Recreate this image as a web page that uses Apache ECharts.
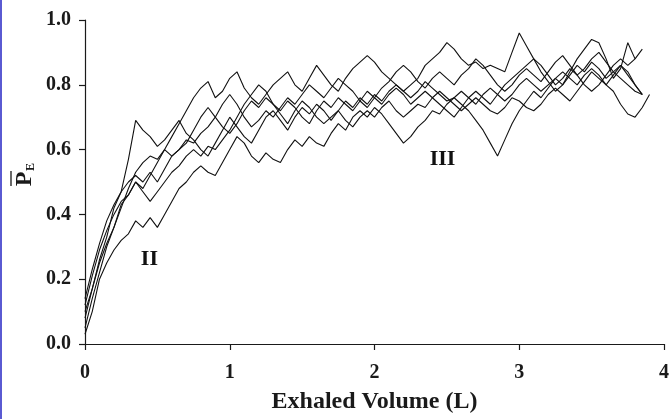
<!DOCTYPE html>
<html>
<head>
<meta charset="utf-8">
<script src="https://cdn.jsdelivr.net/npm/echarts@6/dist/echarts.min.js"></script>
<style>
html,body{margin:0;padding:0;background:#fff;}
#chart{width:672px;height:419px;}
</style>
</head>
<body>
<div id="chart"></div>
<script>
// Exhaled volume (L) sample positions
var volume = [0.00,0.05,0.10,0.15,0.20,0.25,0.30,0.35,0.40,0.45,0.50,0.55,0.60,0.65,0.70,0.75,0.80,0.85,0.90,0.95,
  1.00,1.05,1.10,1.15,1.20,1.25,1.30,1.35,1.40,1.45,1.50,1.55,1.60,1.65,1.70,1.75,1.80,1.85,1.90,1.95,
  2.00,2.05,2.10,2.15,2.20,2.25,2.30,2.35,2.40,2.45,2.50,2.55,2.60,2.65,2.70,2.75,2.80,2.85,2.90,2.95,
  3.00,3.05,3.10,3.15,3.20,3.25,3.30,3.35,3.40,3.45,3.50,3.55,3.60,3.65,3.70,3.75,3.80,3.85,3.90,3.95];

var trace1 = [0.08,0.17,0.26,0.33,0.42,0.47,0.57,0.69,0.66,0.64,0.61,0.63,0.66,0.69,0.65,0.63,0.60,0.58,0.62,0.66,0.70,
  0.67,0.64,0.62,0.66,0.70,0.72,0.69,0.66,0.70,0.73,0.71,0.74,0.72,0.69,0.72,0.75,0.73,0.76,0.74,0.77,
  0.75,0.78,0.80,0.78,0.76,0.78,0.81,0.79,0.77,0.75,0.76,0.74,0.72,0.69,0.66,0.62,0.58,0.63,0.68,0.72,
  0.75,0.78,0.76,0.79,0.82,0.80,0.83,0.86,0.84,0.87,0.85,0.82,0.84,0.86,0.83,0.80,0.77];
var trace2 = [0.05,0.14,0.22,0.30,0.36,0.43,0.46,0.50,0.48,0.52,0.56,0.60,0.64,0.68,0.72,0.76,0.79,0.81,0.76,0.78,0.82,
  0.84,0.79,0.76,0.74,0.77,0.80,0.82,0.84,0.80,0.78,0.82,0.86,0.83,0.80,0.78,0.82,0.85,0.87,0.89,0.87,
  0.84,0.82,0.80,0.78,0.80,0.82,0.86,0.88,0.90,0.93,0.91,0.88,0.86,0.87,0.85,0.86,0.85,0.84,0.90,0.96,
  0.92,0.88,0.84,0.81,0.78,0.80,0.84,0.88,0.91,0.94,0.93,0.88,0.82,0.85,0.93,0.88];
var trace3 = [0.03,0.10,0.20,0.25,0.29,0.32,0.34,0.38,0.36,0.39,0.36,0.40,0.44,0.48,0.50,0.53,0.55,0.53,0.52,0.56,0.60,
  0.64,0.62,0.58,0.56,0.59,0.57,0.56,0.60,0.63,0.61,0.64,0.62,0.61,0.65,0.68,0.66,0.70,0.72,0.70,0.73,
  0.71,0.68,0.65,0.62,0.64,0.67,0.69,0.72,0.71,0.74,0.76,0.78,0.76,0.74,0.77,0.79,0.77,0.75,0.77,0.80,
  0.82,0.80,0.78,0.80,0.82,0.84,0.82,0.80,0.83,0.85,0.83,0.80,0.78,0.74,0.71,0.70,0.73,0.77];
var trace4 = [0.12,0.21,0.29,0.35,0.40,0.44,0.46,0.50,0.47,0.44,0.47,0.50,0.53,0.55,0.58,0.60,0.58,0.61,0.60,0.63,0.66,
  0.70,0.74,0.77,0.80,0.78,0.74,0.72,0.75,0.73,0.70,0.68,0.72,0.75,0.73,0.76,0.74,0.72,0.75,0.78,0.76,
  0.74,0.77,0.79,0.77,0.74,0.76,0.78,0.76,0.74,0.72,0.70,0.73,0.76,0.78,0.76,0.74,0.77,0.80,0.82,0.84,
  0.86,0.88,0.86,0.83,0.80,0.82,0.85,0.83,0.80,0.78,0.80,0.83,0.86,0.88,0.86,0.88,0.91];
var trace5 = [0.14,0.23,0.31,0.38,0.43,0.47,0.50,0.52,0.50,0.53,0.50,0.54,0.58,0.60,0.62,0.66,0.70,0.73,0.70,0.67,0.65,
  0.68,0.72,0.75,0.73,0.76,0.74,0.71,0.68,0.72,0.75,0.73,0.70,0.68,0.70,0.72,0.69,0.67,0.70,0.72,0.70,
  0.73,0.75,0.72,0.70,0.72,0.74,0.73,0.76,0.78,0.76,0.74,0.72,0.74,0.76,0.74,0.72,0.71,0.73,0.76,0.75,
  0.73,0.72,0.74,0.77,0.79,0.77,0.75,0.78,0.81,0.84,0.82,0.80,0.83,0.86,0.84,0.80,0.77];
var trace6 = [0.10,0.17,0.25,0.31,0.36,0.42,0.48,0.53,0.56,0.58,0.57,0.60,0.58,0.60,0.63,0.62,0.65,0.67,0.70,0.74,0.77,
  0.74,0.70,0.67,0.69,0.72,0.70,0.73,0.76,0.74,0.77,0.80,0.78,0.76,0.79,0.82,0.80,0.78,0.75,0.73,0.76,
  0.79,0.81,0.84,0.86,0.84,0.81,0.79,0.82,0.84,0.82,0.80,0.83,0.85,0.88,0.86,0.83,0.80,0.78,0.80,0.83,
  0.85,0.83,0.81,0.84,0.87,0.89,0.86,0.83,0.85,0.88,0.90,0.87,0.84,0.82,0.80,0.78,0.77];

var traces = [trace1, trace2, trace3, trace4, trace5, trace6];

// phase labels and their positions (data coordinates)
var phaseNames = ['II', 'III'];
var phaseX = [0.445, 2.47];
var phaseY = [0.262, 0.57];

var xTicks = [0, 1, 2, 3, 4];
var yTicks = [0.0, 0.2, 0.4, 0.6, 0.8, 1.0];

var FONT = "'Liberation Serif','Times New Roman',serif";
var chart = echarts.init(document.getElementById('chart'), null, {renderer: 'canvas'});

var series = traces.map(function (ys) {
  var d = [];
  for (var i = 0; i < ys.length; i++) d.push([volume[i], ys[i]]);
  return {
    type: 'line', data: d, showSymbol: false, symbol: 'none', smooth: false,
    lineStyle: {color: '#111111', width: 1.1}, silent: true, z: 2
  };
});
series.push({
  type: 'scatter', symbolSize: 0, silent: true, z: 3,
  itemStyle: {opacity: 1, color: '#111111'},
  data: phaseNames.map(function (n, i) { return {value: [phaseX[i], phaseY[i]], name: n}; }),
  label: {show: true, position: 'inside', formatter: function (p) { return p.name; },
    color: '#111111', opacity: 1, fontFamily: FONT, fontWeight: 'bold', fontSize: 22}
});

chart.setOption({
  animation: false,
  backgroundColor: '#ffffff',
  grid: {left: 85, right: 3, top: 20, bottom: 71},
  xAxis: {
    type: 'value', min: xTicks[0], max: xTicks[xTicks.length - 1], interval: 1,
    name: 'Exhaled Volume (L)', nameLocation: 'middle', nameGap: 46,
    nameTextStyle: {fontFamily: FONT, fontWeight: 'bold', fontSize: 24, color: '#1a1a1a'},
    axisLine: {lineStyle: {color: '#1a1a1a', width: 1.2}},
    axisTick: {show: true, inside: false, length: 6, lineStyle: {color: '#1a1a1a', width: 1.2}},
    axisLabel: {margin: 19, fontFamily: FONT, fontWeight: 'bold', fontSize: 20, color: '#1a1a1a',
      formatter: function (v) { return String(v); }},
    splitLine: {show: false}
  },
  yAxis: {
    type: 'value', min: yTicks[0], max: yTicks[yTicks.length - 1], interval: 0.2,
    axisLine: {show: true, lineStyle: {color: '#1a1a1a', width: 1.2}},
    axisTick: {show: true, inside: false, length: 6, lineStyle: {color: '#1a1a1a', width: 1.2}},
    axisLabel: {margin: 14, fontFamily: FONT, fontWeight: 'bold', fontSize: 20, color: '#1a1a1a',
      formatter: function (v) { return v.toFixed(1); }},
    splitLine: {show: false}
  },
  graphic: [
    {type: 'rect', left: 0, top: 0, shape: {x: 0, y: 0, width: 2, height: 419},
      style: {fill: '#5a5ad2'}, silent: true},
    {type: 'group', x: 25, y: 178, rotation: Math.PI / 2, silent: true, children: [
      {type: 'text', x: -1, y: 0, style: {text: 'P', fontFamily: FONT, fontWeight: 'bold', fontSize: 24,
        fill: '#1a1a1a', textAlign: 'center', textVerticalAlign: 'middle'}},
      {type: 'text', x: 11, y: 6, style: {text: 'E', fontFamily: FONT, fontWeight: 'bold', fontSize: 12,
        fill: '#1a1a1a', textAlign: 'center', textVerticalAlign: 'middle'}},
      {type: 'line', shape: {x1: -8, y1: -14, x2: 7, y2: -14}, style: {stroke: '#1a1a1a', lineWidth: 1.3}}
    ]}
  ],
  series: series
});
</script>
</body>
</html>
